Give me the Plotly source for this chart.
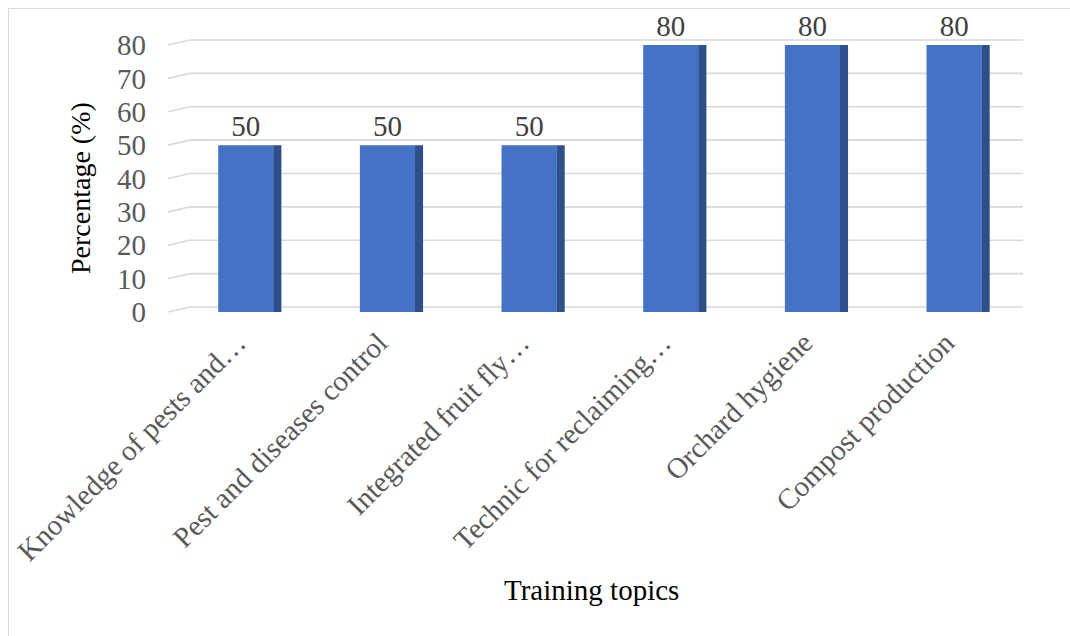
import plotly.graph_objects as go

categories = ["Knowledge of pests and…", "Pest and diseases control", "Integrated fruit fly…",
              "Technic for reclaiming…", "Orchard hygiene", "Compost production"]
values = [50, 50, 50, 80, 80, 80]
y_ticks = [0, 10, 20, 30, 40, 50, 60, 70, 80]
y_max = 80

FONT = "Liberation Serif"
W, H = 1070, 636
L, R, T, B = 175, 45, 45, 324
pw = W - L - R
ph = H - T - B

def px_x(x):
    return (x - L) / pw

def px_y(y):
    return (H - B - y) / ph

idx = list(range(len(categories)))
label_shift = -0.06  # 3D front-plane offset of category labels

fig = go.Figure()
# side (depth) face of columns
fig.add_trace(go.Bar(x=idx, y=values, width=0.058, offset=0.193,
                     marker=dict(color="#2E4F8A", line=dict(width=0)),
                     hoverinfo="skip", showlegend=False))
# front face of columns
fig.add_trace(go.Bar(x=idx, y=values, width=0.39, offset=-0.195,
                     marker=dict(color="#4472C4", line=dict(width=0)),
                     text=[str(v) for v in values], textposition="outside",
                     textfont=dict(family=FONT, size=29, color="#404040"),
                     hovertext=categories, cliponaxis=False, showlegend=False))

shapes = []
dv = 5 / ph  # back-wall offset of gridlines (3D depth)
for v in y_ticks:
    yp = v / y_max
    shapes.append(dict(type="path", xref="paper", yref="paper",
                       path=f"M {px_x(168)},{yp} L {px_x(190)},{yp+dv} L {px_x(1023)},{yp+dv}",
                       line=dict(color="#d9d9d9", width=1.6), layer="below"))
shapes.append(dict(type="rect", xref="paper", yref="paper",
                   x0=px_x(8.5), x1=px_x(1080), y0=px_y(8.5), y1=px_y(650),
                   line=dict(color="#d9d9d9", width=1), layer="below"))

fig.update_layout(
    width=W, height=H,
    margin=dict(l=L, r=R, t=T, b=B, autoexpand=False),
    paper_bgcolor="white", plot_bgcolor="rgba(0,0,0,0)",
    barmode="overlay",
    font=dict(family=FONT, color="#595959"),
    shapes=shapes,
    xaxis=dict(range=[-0.5, len(categories) - 0.5], automargin=False,
               tickvals=[i + label_shift for i in idx], ticktext=categories,
               showgrid=False, showline=False, zeroline=False, tickangle=-45,
               ticklabelstandoff=7,
               tickfont=dict(family=FONT, size=29, color="#595959"), ticks=""),
    yaxis=dict(range=[0, y_max], tickvals=y_ticks, showgrid=False, zeroline=False,
               showline=False, ticks="", ticklabelstandoff=28, automargin=False,
               tickfont=dict(family=FONT, size=29, color="#595959")),
    annotations=[
        dict(text="Training topics", xref="paper", yref="paper",
             x=px_x(591), y=px_y(590), xanchor="center", yanchor="middle",
             showarrow=False, font=dict(family=FONT, size=29, color="black")),
        dict(text="Percentage (%)", xref="paper", yref="paper", textangle=-90,
             x=px_x(80), y=px_y(188), xanchor="center", yanchor="middle",
             showarrow=False, font=dict(family=FONT, size=28, color="black")),
    ],
)

fig.write_html("out.html")
